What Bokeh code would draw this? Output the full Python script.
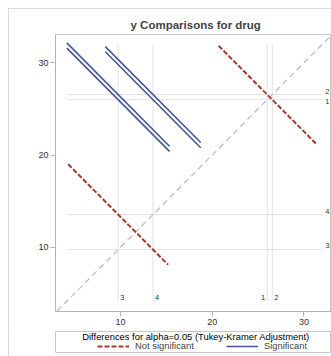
from bokeh.plotting import figure
from bokeh.layouts import column
from bokeh.models import Range1d, Legend, LegendItem, ColumnDataSource
from bokeh.core.properties import value
from bokeh.embed import file_html
from bokeh.resources import INLINE

# ---- data ----
levels = ["1", "2", "3", "4"]
lsmeans = [25.9944, 26.5556, 9.7444, 13.5444]
pair_a = [0, 0, 0, 1, 1, 2]          # index into levels
pair_b = [1, 2, 3, 2, 3, 3]
pair_halfext = [5.3, 5.6, 5.2, 5.6, 5.2, 5.45]   # half extent of CI segment (per axis)
x_ticks = [10, 20, 30]
y_ticks = [10, 20, 30]
ref_lo, ref_hi = 4.2, 32.0
title_text = "y Comparisons for drug"
legend_title = "Differences for alpha=0.05 (Tukey-Kramer Adjustment)"
legend_labels = ["Not significant", "Significant"]

FONT = "Liberation Sans"
BLUE = "#445694"
RED = "#A23A2E"

# ---- segments ----
seg = {True: dict(x0=[], y0=[], x1=[], y1=[]), False: dict(x0=[], y0=[], x1=[], y1=[])}
for a, b, h in zip(pair_a, pair_b, pair_halfext):
    ma, mb = lsmeans[a], lsmeans[b]
    mx, my = min(ma, mb), max(ma, mb)
    sig = (my - mx) > 2 * h
    d = seg[sig]
    d["x0"].append(mx - h); d["y0"].append(my + h)
    d["x1"].append(mx + h); d["y1"].append(my - h)

p = figure(width=323, height=323, output_backend="svg", toolbar_location=None,
           x_range=Range1d(2.91, 33.01), y_range=Range1d(3.03, 33.07),
           min_border_left=47, min_border_right=0, min_border_top=26, min_border_bottom=20)

p.title.text = title_text
p.title.text_font = FONT
p.title.text_font_size = "11.5px"
p.title.text_font_style = "bold"
p.title.align = "left"
p.title.offset = 75
p.title.standoff = 8

p.xgrid.visible = False
p.ygrid.visible = False
p.outline_line_color = "#c4c4c4"
p.background_fill_color = "white"

for ax, tk in ((p.xaxis, x_ticks), (p.yaxis, y_ticks)):
    ax.ticker = tk
    ax.axis_line_color = "#b4b4b4"
    ax.major_tick_line_color = "#b4b4b4"
    ax.major_tick_out = 5
    ax.major_tick_in = 0
    ax.minor_tick_line_color = None
    ax.major_label_text_font = FONT
    ax.major_label_text_font_size = "9px"
    ax.major_label_text_color = "#333333"
    ax.major_label_standoff = 2

# reference lines
p.segment(x0=lsmeans, x1=lsmeans, y0=[ref_lo] * 4, y1=[ref_hi] * 4, line_color="#e2e2e2", line_width=1)
p.segment(y0=lsmeans, y1=lsmeans, x0=[ref_lo] * 4, x1=[ref_hi] * 4, line_color="#e2e2e2", line_width=1)

# diagonal
p.line(x=[0, 40], y=[0, 40], line_color="#b8b8b8", line_width=1.2, line_dash="6 4")

NS_STYLE = dict(line_color=RED, line_width=2, line_dash="5 2")
S_STYLE = dict(line_color=BLUE, line_width=1.6)
p.segment(source=ColumnDataSource(seg[False]), x0="x0", y0="y0", x1="x1", y1="y1", **NS_STYLE)
p.segment(source=ColumnDataSource(seg[True]), x0="x0", y0="y0", x1="x1", y1="y1", **S_STYLE)

# level labels
bot_xoff = {"1": -2, "2": 2, "3": 2, "4": 2}
bot_align = {"1": "right", "2": "left", "3": "left", "4": "left"}
right_yoff = {"1": 2, "2": -3.5, "3": -4, "4": -3}
for al in ("left", "right"):
    idx = [i for i, l in enumerate(levels) if bot_align[l] == al]
    src = ColumnDataSource(dict(x=[lsmeans[i] for i in idx], y=[4.55] * len(idx),
                                t=[levels[i] for i in idx], xo=[bot_xoff[levels[i]] for i in idx]))
    p.text(x="x", y="y", text="t", x_offset="xo", source=src, text_align=al, text_baseline="middle",
           text_font=value(FONT), text_font_size="7.5px", text_color="#333333")
src_r = ColumnDataSource(dict(x=[ref_hi] * 4, y=lsmeans, t=levels, yo=[right_yoff[l] for l in levels]))
p.text(x="x", y="y", text="t", y_offset="yo", x_offset=3, source=src_r, text_align="left",
       text_baseline="middle", text_font=value(FONT), text_font_size="7.5px", text_color="#333333")

# ---- legend strip (its frame outline is the legend box) ----
lf = figure(width=323, height=25, output_backend="svg", toolbar_location=None,
            x_range=Range1d(0, 1), y_range=Range1d(0, 1),
            min_border_left=46, min_border_right=0, min_border_top=0, min_border_bottom=4)
lf.axis.visible = False
lf.grid.visible = False
lf.outline_line_color = "#c8c8c8"
lf.text(x=[0.509], y=[0.76], text=[legend_title], text_align="center", text_baseline="middle",
        text_font=value(FONT), text_font_size="9.4px", text_color="black")
r_ns = lf.line(x=[-5, -4], y=[-5, -4], **NS_STYLE)
r_s = lf.line(x=[-5, -4], y=[-5, -4], **S_STYLE)
legend = Legend(items=[LegendItem(label=legend_labels[0], renderers=[r_ns]),
                       LegendItem(label=legend_labels[1], renderers=[r_s])],
                orientation="horizontal", location=(42, 1))
legend.label_text_font = FONT
legend.label_text_font_size = "9.4px"
legend.glyph_width = 32
legend.glyph_height = 8
legend.label_height = 8
legend.label_standoff = 6
legend.spacing = 32
legend.padding = 0
legend.margin = 0
legend.border_line_color = None
legend.background_fill_alpha = 0
lf.add_layout(legend)

layout = column(p, lf, spacing=0, margin=(8, 0, 0, 8))
layout.styles = {"outline": "1px solid #cccccc", "outline-offset": "-1px"}

open("out.html", "w").write(file_html(layout, INLINE))
